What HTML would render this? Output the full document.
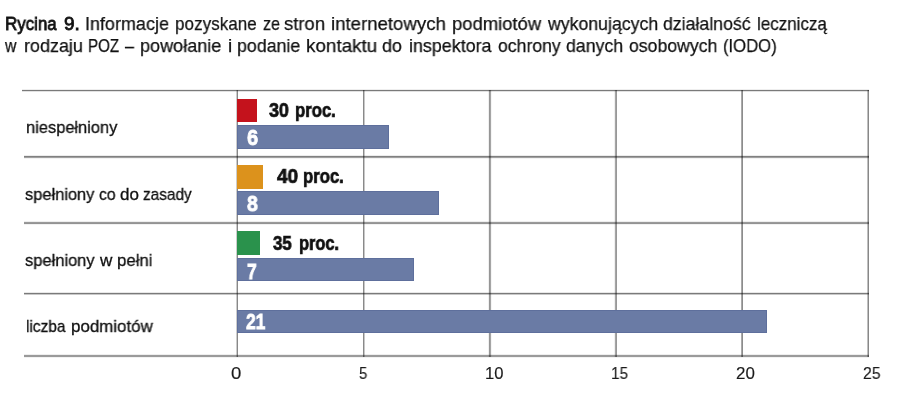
<!DOCTYPE html>
<html><head><meta charset="utf-8">
<style>
html,body{margin:0;padding:0;background:#fff;}
body{width:900px;height:401px;position:relative;overflow:hidden;font-family:"Liberation Sans",sans-serif;}
.a{position:absolute;white-space:nowrap;will-change:transform;}
.t{font-size:19px;line-height:19px;color:#111;transform-origin:0 0;-webkit-text-stroke:0.25px #111;}
.t.b{-webkit-text-stroke:0.8px #111;}
.hl{position:absolute;height:1px;mix-blend-mode:multiply;}
.vl{position:absolute;width:1px;top:90px;height:267px;mix-blend-mode:multiply;}
.bar{position:absolute;background:#6a7ba5;box-shadow:inset 0 0 0 1px #5e6f9c;}
.sq{position:absolute;}
.cat{font-size:17px;line-height:17px;color:#111;transform-origin:0 0;-webkit-text-stroke:0.3px #111;}
.pl{font-size:20px;line-height:20px;-webkit-text-stroke:0.7px #111;font-weight:bold;color:#111;transform-origin:0 0;}
.bn{font-size:22px;line-height:22px;-webkit-text-stroke:0.8px #fff;font-weight:bold;color:#fff;transform-origin:0 0;}
.ax{font-size:16px;line-height:16px;color:#1a1a1a;transform-origin:0 0;-webkit-text-stroke:0.15px #1a1a1a;}
</style></head><body>
<div class="a t b" style="left:5.41px;top:14px;transform:scaleX(0.889);">Rycina</div>
<div class="a t b" style="left:63.70px;top:14px;">9.</div>
<div class="a t" style="left:84.65px;top:14px;transform:scaleX(0.946);">Informacje</div>
<div class="a t" style="left:174.70px;top:14px;transform:scaleX(0.899);">pozyskane</div>
<div class="a t" style="left:263.30px;top:14px;transform:scaleX(0.847);">ze</div>
<div class="a t" style="left:284.33px;top:14px;transform:scaleX(0.972);">stron</div>
<div class="a t" style="left:331.42px;top:14px;transform:scaleX(0.979);">internetowych</div>
<div class="a t" style="left:451.83px;top:14px;transform:scaleX(0.970);">podmiotów</div>
<div class="a t" style="left:547.80px;top:14px;transform:scaleX(0.931);">wykonujących</div>
<div class="a t" style="left:663.47px;top:14px;transform:scaleX(0.932);">działalność</div>
<div class="a t" style="left:757.41px;top:14px;transform:scaleX(0.895);">leczniczą</div>
<div class="a t" style="left:5.20px;top:36px;transform:scaleX(0.829);">w</div>
<div class="a t" style="left:24.05px;top:36px;transform:scaleX(0.945);">rodzaju</div>
<div class="a t" style="left:88.11px;top:36px;transform:scaleX(0.795);">POZ</div>
<div class="a t" style="left:125.00px;top:36px;transform:scaleX(0.855);">–</div>
<div class="a t" style="left:140.15px;top:36px;transform:scaleX(0.950);">powołanie</div>
<div class="a t" style="left:227.50px;top:36px;">i</div>
<div class="a t" style="left:237.26px;top:36px;transform:scaleX(0.936);">podanie</div>
<div class="a t" style="left:306.01px;top:36px;transform:scaleX(0.991);">kontaktu</div>
<div class="a t" style="left:382.36px;top:36px;transform:scaleX(0.945);">do</div>
<div class="a t" style="left:409.36px;top:36px;transform:scaleX(0.941);">inspektora</div>
<div class="a t" style="left:497.97px;top:36px;transform:scaleX(0.928);">ochrony</div>
<div class="a t" style="left:566.37px;top:36px;transform:scaleX(0.931);">danych</div>
<div class="a t" style="left:629.07px;top:36px;transform:scaleX(0.929);">osobowych</div>
<div class="a t" style="left:723.02px;top:36px;transform:scaleX(0.876);">(IODO)</div>

<div class="hl" style="left:22px;top:89px;width:847px;background:#eeeeee;"></div>
<div class="hl" style="left:22px;top:90px;width:847px;background:#7a7a7a;"></div>
<div class="hl" style="left:22px;top:91px;width:847px;background:#e2e2e2;"></div>
<div class="hl" style="left:24px;top:155px;width:845px;background:#ececec;"></div>
<div class="hl" style="left:24px;top:156px;width:845px;background:#808080;"></div>
<div class="hl" style="left:24px;top:157px;width:845px;background:#a0a0a0;"></div>
<div class="hl" style="left:24px;top:158px;width:845px;background:#f2f2f2;"></div>
<div class="hl" style="left:24px;top:221px;width:845px;background:#eeeeee;"></div>
<div class="hl" style="left:24px;top:222px;width:845px;background:#9a9a9a;"></div>
<div class="hl" style="left:24px;top:223px;width:845px;background:#939393;"></div>
<div class="hl" style="left:24px;top:224px;width:845px;background:#f2f2f2;"></div>
<div class="hl" style="left:24px;top:292px;width:845px;background:#e8e8e8;"></div>
<div class="hl" style="left:24px;top:293px;width:845px;background:#7a7a7a;"></div>
<div class="hl" style="left:24px;top:294px;width:845px;background:#c8c8c8;"></div>
<div class="hl" style="left:24px;top:354px;width:845px;background:#eeeeee;"></div>
<div class="hl" style="left:24px;top:355px;width:845px;background:#9a9a9a;"></div>
<div class="hl" style="left:24px;top:356px;width:845px;background:#9a9a9a;"></div>
<div class="hl" style="left:24px;top:357px;width:845px;background:#f2f2f2;"></div>

<div class="vl" style="left:236px;background:#cccccc;"></div>
<div class="vl" style="left:237px;background:#888888;"></div>
<div class="vl" style="left:363px;background:#8a8a8a;"></div>
<div class="vl" style="left:364px;background:#c8c8c8;"></div>
<div class="vl" style="left:488px;background:#f0f0f0;"></div>
<div class="vl" style="left:489px;background:#959595;"></div>
<div class="vl" style="left:490px;background:#a5a5a5;"></div>
<div class="vl" style="left:491px;background:#f5f5f5;"></div>
<div class="vl" style="left:614px;background:#f0f0f0;"></div>
<div class="vl" style="left:615px;background:#a5a5a5;"></div>
<div class="vl" style="left:616px;background:#989898;"></div>
<div class="vl" style="left:741px;background:#aaaaaa;"></div>
<div class="vl" style="left:742px;background:#8c8c8c;"></div>
<div class="vl" style="left:867px;background:#c0c0c0;"></div>
<div class="vl" style="left:868px;background:#888888;"></div>

<div class="sq" style="left:237px;top:99px;width:20px;height:23px;background:#c4121c;"></div>
<div class="bar" style="left:237px;top:125px;width:152px;height:24px;"></div>
<div class="sq" style="left:237px;top:165px;width:26px;height:24px;background:#dc921c;"></div>
<div class="bar" style="left:237px;top:191px;width:202px;height:24px;"></div>
<div class="sq" style="left:237px;top:231px;width:23px;height:24px;background:#2a924c;"></div>
<div class="bar" style="left:237px;top:258px;width:177px;height:23px;"></div>
<div class="bar" style="left:237px;top:310px;width:530px;height:23px;"></div>




<div class="a cat" style="left:25.63px;top:118.5px;transform:scaleX(0.967);">niespełniony</div>
<div class="a cat" style="left:25.13px;top:185.5px;transform:scaleX(0.966);">spełniony</div>
<div class="a cat" style="left:99.28px;top:185.5px;transform:scaleX(0.925);">co</div>
<div class="a cat" style="left:120.00px;top:185.5px;">do</div>
<div class="a cat" style="left:143.10px;top:185.5px;transform:scaleX(0.904);">zasady</div>
<div class="a cat" style="left:25.13px;top:251.5px;transform:scaleX(0.969);">spełniony</div>
<div class="a cat" style="left:99.80px;top:251.5px;transform:scaleX(1.008);">w</div>
<div class="a cat" style="left:116.61px;top:251.5px;transform:scaleX(0.985);">pełni</div>
<div class="a cat" style="left:25.99px;top:317.5px;transform:scaleX(0.909);">liczba</div>
<div class="a cat" style="left:71.31px;top:317.5px;transform:scaleX(0.994);">podmiotów</div>
<div class="a pl" style="left:268.90px;top:100px;transform:scaleX(0.895);">30</div>
<div class="a pl" style="left:294.67px;top:100px;transform:scaleX(0.834);">proc.</div>
<div class="a pl" style="left:276.50px;top:166px;transform:scaleX(0.955);">40</div>
<div class="a pl" style="left:303.27px;top:166px;transform:scaleX(0.834);">proc.</div>
<div class="a pl" style="left:273.10px;top:233px;transform:scaleX(0.845);">35</div>
<div class="a pl" style="left:299.48px;top:233px;transform:scaleX(0.819);">proc.</div>

<div class="a bn" style="left:246.80px;top:127px;transform:scaleX(0.908);">6</div>
<div class="a bn" style="left:246.75px;top:193px;transform:scaleX(0.887);">8</div>
<div class="a bn" style="left:247.01px;top:261px;transform:scaleX(0.791);">7</div>
<div class="a bn" style="left:246.20px;top:311px;transform:scaleX(0.792);">21</div>

<div class="a ax" style="left:231.34px;top:366px;transform:scaleX(1.157);">0</div>
<div class="a ax" style="left:358.77px;top:366px;transform:scaleX(0.929);">5</div>
<div class="a ax" style="left:484.86px;top:366px;transform:scaleX(1.038);">10</div>
<div class="a ax" style="left:611.24px;top:366px;transform:scaleX(0.956);">15</div>
<div class="a ax" style="left:736.44px;top:366px;transform:scaleX(1.056);">20</div>
<div class="a ax" style="left:863.02px;top:366px;transform:scaleX(0.981);">25</div>
</body></html>
